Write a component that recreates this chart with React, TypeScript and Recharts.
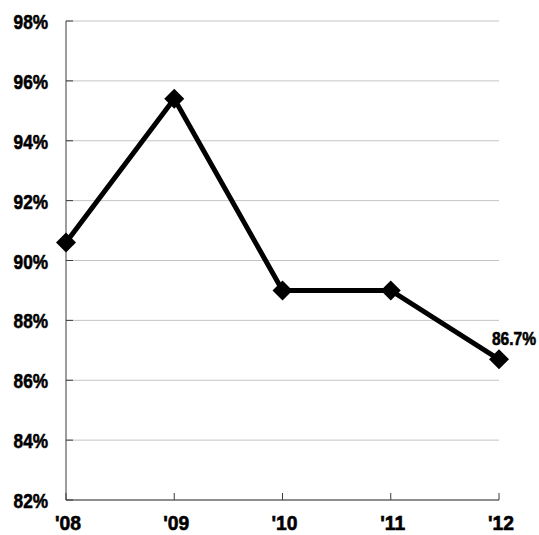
import * as React from 'react';
import { LineChart, Line, XAxis, YAxis, CartesianGrid, LabelList } from 'recharts';

const years = ["'08", "'09", "'10", "'11", "'12"];
const rates = [90.6, 95.4, 89.0, 89.0, 86.7];
const yTicks = [82, 84, 86, 88, 90, 92, 94, 96, 98];

// no narrow font installed: squeeze Liberation Sans bold horizontally instead
const FONT = '"Liberation Sans", Arial, sans-serif';
const AXIS = '#3a3a3a';

const data = years.map((y, i) => ({ year: y, rate: rates[i] }));

function NarrowText(props: any) {
  const { x, y, anchor, size, squeeze = 0.82, children } = props;
  return (
    <g transform={`translate(${x},${y}) scale(${squeeze},1)`}>
      <text
        x={0}
        y={0}
        textAnchor={anchor}
        fontFamily={FONT}
        fontWeight="bold"
        fontSize={size}
        fill="#000"
        stroke="#000"
        strokeWidth={0.6}
      >
        {children}
      </text>
    </g>
  );
}

function YTick(props: any) {
  const { x, y, payload } = props;
  return (
    <g>
      <line x1={x} y1={y} x2={x + 7} y2={y} stroke={AXIS} strokeWidth={1} />
      <NarrowText x={x - 18} y={y + 8} anchor="end" size={21}>{payload.value}%</NarrowText>
    </g>
  );
}

function XTick(props: any) {
  const { x, y, payload } = props;
  return (
    <g>
      <line x1={x} y1={y} x2={x} y2={y - 7} stroke={AXIS} strokeWidth={1} />
      <NarrowText x={x + 2} y={y + 30} anchor="middle" size={21} squeeze={0.92}>{payload.value}</NarrowText>
    </g>
  );
}

function Diamond(props: any) {
  const { cx, cy, index } = props;
  if (cx == null || cy == null) return <g key={index} />;
  const r = 10;
  return (
    <polygon
      key={index}
      points={`${cx},${cy - r} ${cx + r},${cy} ${cx},${cy + r} ${cx - r},${cy}`}
      fill="#000"
    />
  );
}

function LastLabel(props: any) {
  const { x, y, index, value } = props;
  if (index !== rates.length - 1) return null;
  return <NarrowText x={x + 15} y={y - 14} anchor="middle" size={19}>{value}%</NarrowText>;
}

export default function App() {
  return (
    <div style={{ position: 'absolute', left: 0, top: 0, background: '#fff' }}>
      <LineChart width={539} height={535} data={data} margin={{ top: 21, right: 40, bottom: 0, left: 0 }}>
        <CartesianGrid vertical={false} stroke="#c4c4c4" strokeWidth={1} />
        <XAxis
          dataKey="year"
          height={35}
          stroke={AXIS}
          tickLine={false}
          tickSize={0}
          tickMargin={0}
          tick={<XTick />}
          interval={0}
        />
        <YAxis
          domain={[82, 98]}
          ticks={yTicks}
          width={66}
          stroke={AXIS}
          tickLine={false}
          tickSize={0}
          tickMargin={0}
          tick={<YTick />}
          interval={0}
        />
        <Line
          dataKey="rate"
          stroke="#000"
          strokeWidth={5}
          dot={<Diamond />}
          activeDot={false}
          isAnimationActive={false}
        >
          <LabelList dataKey="rate" content={<LastLabel />} />
        </Line>
      </LineChart>
    </div>
  );
}
